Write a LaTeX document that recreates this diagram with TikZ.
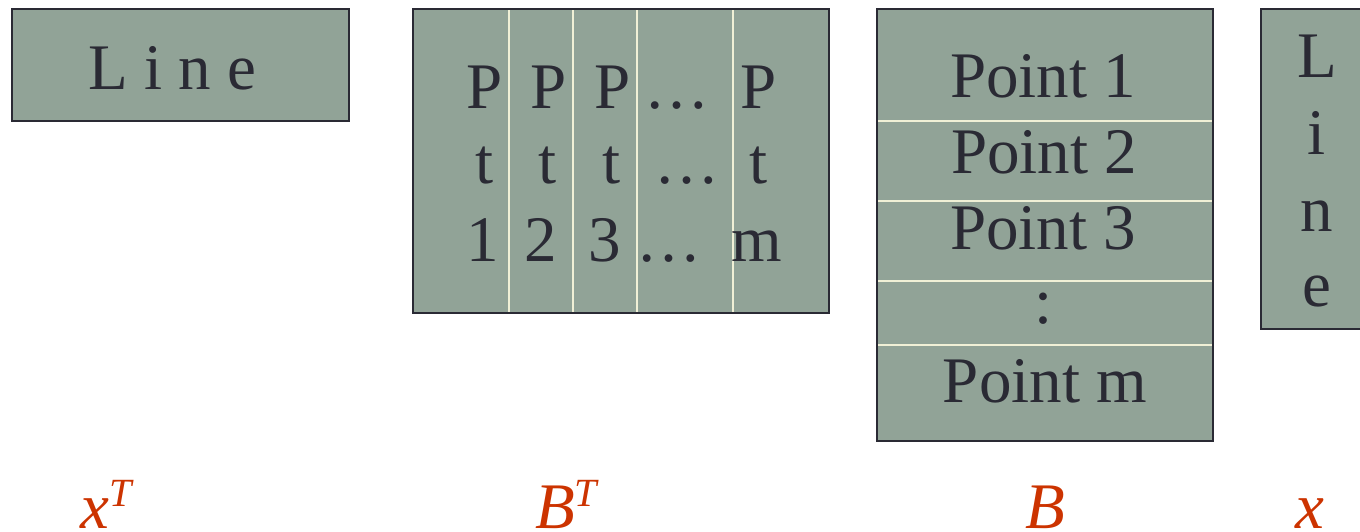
\documentclass[tikz,border=0pt]{standalone}
\usepackage{xcolor}
\usepackage{fontspec}
\setmainfont{Liberation Serif}
\usepackage{tikz}

\definecolor{boxfill}{RGB}{145,163,151}
\definecolor{boxline}{RGB}{42,42,52}
\definecolor{divline}{RGB}{240,240,214}
\definecolor{labelred}{RGB}{204,51,0}

\newcommand{\transp}{{\fontsize{20}{20}\selectfont\raisebox{11pt}{\textit{T}}}}

\begin{document}
\begin{tikzpicture}[x=0.5pt, y=-0.5pt]
				\tikzstyle{box}=[draw=boxline, fill=boxfill, line width=1pt, inner sep=0pt]
				\tikzstyle{divider}=[draw=divline, line width=1pt]
				\tikzstyle{entry}=[text=boxline, inner sep=0pt, anchor=base, font=\fontsize{32.5}{37}\selectfont]
				\tikzstyle{matlabel}=[text=labelred, inner sep=0pt, anchor=base, text depth=0pt, font=\fontsize{32.5}{37}\selectfont\itshape]
				\useasboundingbox (0,0) rectangle (1360,531);
				
				% x^T : one row
				\node[box, minimum width=168.5pt, minimum height=56pt](xT) at (180.5,65) {};
				\node[entry](xTtext) at (172,89) {L i n e};
				
				% B^T : columns of points
				\node[box, minimum width=208pt, minimum height=152pt](BT) at (621,161) {};
				\draw[divider] (509,10) -- (509,312);
				\draw[divider] (573,10) -- (573,312);
				\draw[divider] (637,10) -- (637,312);
				\draw[divider] (733,10) -- (733,312);
				\node[entry](c1a) at (485,108) {P};
				\node[entry](c1b) at (485,183) {t};
				\node[entry](c1c) at (483,261) {1};
				\node[entry](c2a) at (549,108) {P};
				\node[entry](c2b) at (548,183) {t};
				\node[entry](c2c) at (541,261) {2};
				\node[entry](c3a) at (613,108) {P};
				\node[entry](c3b) at (612,183) {t};
				\node[entry](c3c) at (605,261) {3};
				\node[entry](c4a) at (677,108) {\dots};
				\node[entry](c4b) at (687,183) {\dots};
				\node[entry](c4c) at (669,261) {\dots};
				\node[entry](c5a) at (759,108) {P};
				\node[entry](c5b) at (759,183) {t};
				\node[entry](c5c) at (757,261) {m};
				
				% B : rows of points
				\node[box, minimum width=168pt, minimum height=216pt](B) at (1045,225) {};
				\draw[divider] (878,121) -- (1212,121);
				\draw[divider] (878,201) -- (1212,201);
				\draw[divider] (878,281) -- (1212,281);
				\draw[divider] (878,345) -- (1212,345);
				\node[entry](r1) at (1043,97)  {Point 1};
				\node[entry](r2) at (1044,173) {Point 2};
				\node[entry](r3) at (1043,249) {Point 3};
				\node[entry](r4) at (1044,323) {:};
				\node[entry](r5) at (1045,402) {Point m};
				
				% x : one column
				\node[box, minimum width=56pt, minimum height=160pt](x) at (1317,169) {};
				\node[entry](xa) at (1317,77)  {L};
				\node[entry](xb) at (1317,154) {i};
				\node[entry](xc) at (1317,231) {n};
				\node[entry](xd) at (1317,306) {e};
				
				% labels
				\node[matlabel](nxT) at (106,528)  {x\transp};
				\node[matlabel](nBT) at (566,528)  {B\transp};
				\node[matlabel](nB)  at (1045,528) {B};
				\node[matlabel](nx)  at (1310,528) {x};
			\end{tikzpicture}
\end{document}
